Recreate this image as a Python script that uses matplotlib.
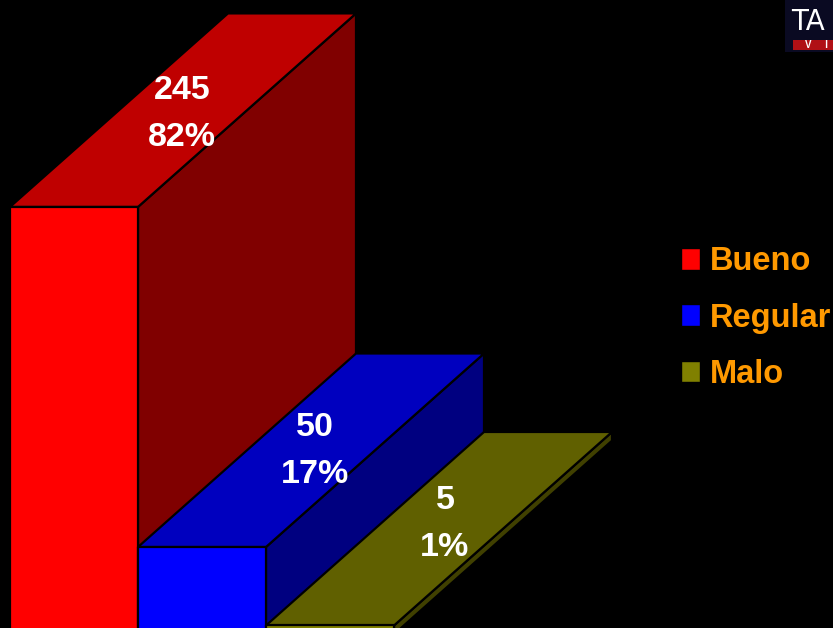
import matplotlib
matplotlib.use("Agg")
import matplotlib.pyplot as plt
from matplotlib.patches import Polygon, Patch, Rectangle

categories = ["Bueno", "Regular", "Malo"]
values = [245, 50, 5]
percents = [82, 17, 1]

front_colors = ["#FF0000", "#0000FF", "#808000"]
top_colors = ["#BF0000", "#0000BF", "#606000"]
side_colors = ["#800000", "#000080", "#404000"]
label_nudge_px = [(-1, -3.5), (4, -1), (6, 4.5)]

W, H = 833, 628
PX_PER_CAT = 128.0
PX_PER_VAL = 1.744
BASE_PX = 634.2
LEFT_PX = 10
DX = 218 / PX_PER_CAT
DY = 193.5 / PX_PER_VAL

plt.rcParams["font.family"] = ["Liberation Sans", "DejaVu Sans"]
fig = plt.figure(figsize=(W / 100, H / 100), dpi=100, facecolor="black")
ax = fig.add_axes([0, 0, 1, 1], facecolor="black")
ax.set_xlim(-LEFT_PX / PX_PER_CAT, (W - LEFT_PX) / PX_PER_CAT)
ax.set_ylim((BASE_PX - H) / PX_PER_VAL, BASE_PX / PX_PER_VAL)
ax.axis("off")

EDGE = dict(edgecolor="black", linewidth=1.6, joinstyle="round")
for i, (v, pct) in enumerate(zip(values, percents)):
    z = 2 + i
    ax.add_patch(Polygon([(i + 1, 0), (i + 1 + DX, DY), (i + 1 + DX, v + DY), (i + 1, v)],
                         facecolor=side_colors[i], zorder=z, **EDGE))
    ax.add_patch(Polygon([(i, v), (i + 1, v), (i + 1 + DX, v + DY), (i + DX, v + DY)],
                         facecolor=top_colors[i], zorder=z, **EDGE))
    ax.add_patch(Rectangle((i, 0), 1, v, facecolor=front_colors[i], zorder=z, **EDGE))

for i, (v, pct) in enumerate(zip(values, percents)):
    nx, ny = label_nudge_px[i]
    ax.annotate(f"{v}\n{pct}%", xy=(i + 0.5 + DX / 2, v + DY / 2),
                xytext=(nx * 0.72, ny * 0.72), textcoords="offset points",
                ha="center", va="center", color="white", fontsize=24.5,
                fontweight="bold", linespacing=1.68, zorder=10)

handles = [Patch(facecolor=c, edgecolor="black", label=n) for c, n in zip(front_colors, categories)]
leg = ax.legend(handles=handles, loc="upper left", bbox_to_anchor=(678 / W, 1 - 243 / H),
                frameon=False, prop=dict(size=23.5, weight="bold"),
                handlelength=0.57, handleheight=0.64, handletextpad=0.3,
                labelspacing=0.78, borderpad=0.1, borderaxespad=0)
for t in leg.get_texts():
    t.set_color("#FF9900")

# logo in the upper right corner
fig.add_artist(Rectangle((785 / W, 1 - 52 / H), 48 / W, 52 / H, transform=fig.transFigure,
                         facecolor="#0A0A22", edgecolor="none", zorder=20))
fig.add_artist(Rectangle((793 / W, 1 - 50 / H), 40 / W, 10 / H, transform=fig.transFigure,
                         facecolor="#B01015", edgecolor="none", zorder=21))
fig.text(791 / W, 1 - 30 / H, "TA", color="white", fontsize=20, family="DejaVu Sans",
         ha="left", va="baseline", zorder=22)
fig.text(805 / W, 1 - 48.5 / H, "V     I", color="white", fontsize=7, fontweight="bold",
         ha="left", va="baseline", zorder=22)

fig.savefig("out.png", dpi=100, facecolor="black")
